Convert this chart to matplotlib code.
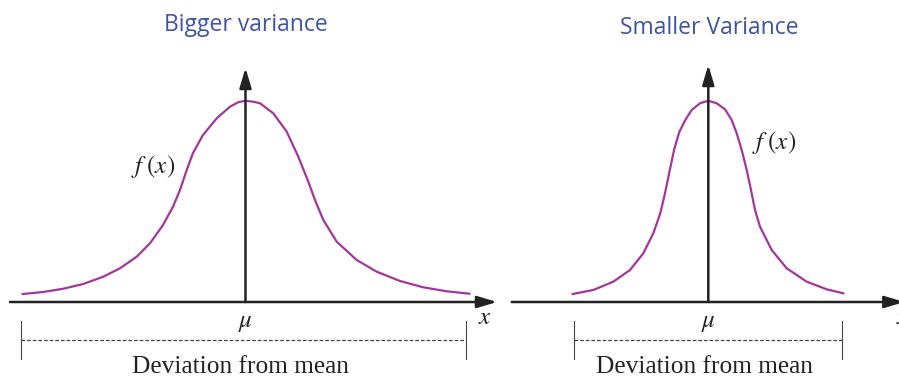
import matplotlib
matplotlib.use("Agg")
import matplotlib.pyplot as plt

plt.rcParams["mathtext.fontset"] = "stix"

# density curves: offset from the mean and height above the axis
wide_dx = [-222.8, -202.2, -182.2, -162.2, -142.2, -125.5, -108.8, -95.5, -82.5, -72.5, -65.5,
           -58.8, -52.5, -42.5, -28.5, -15.5, -7.5, 0,
           7.5, 14.5, 27.8, 41.2, 52.8, 62.8, 69.5, 77.8, 91.2, 111.2, 131.2, 154.5, 177.8,
           201.2, 223.8]
wide_h = [8, 10, 13.3, 18, 25.3, 33.7, 45.3, 58.7, 77, 95.3, 112,
          132, 149, 167, 184, 195.3, 199.7, 201.3,
          200.3, 198.7, 188.7, 170.3, 145.3, 120.3, 102, 82, 60.3, 42, 30.3, 21, 14.7,
          10.7, 8.3]

narrow_dx = [-135.6, -115, -95, -78.3, -65, -55, -48, -43, -38.5, -34, -29, -23, -16.6,
             -8.3, 0, 8.4, 16.7, 23.4, 28.4, 33.4, 38.4, 42.7, 46.7, 51.7, 63.4, 78.4, 98.4,
             118.4, 135]
narrow_h = [8, 12, 20.3, 32, 48.7, 68.7, 88.7, 110, 132, 153, 170, 182, 192,
            198.7, 201.3, 198.7, 192.7, 182, 168.7, 152, 132, 112, 92, 75.3, 52, 33.7, 20.3,
            12.7, 8.7]

titles = ["Bigger variance", "Smaller Variance"]
curve_color = "#a2369c"
title_color = "#4052a6"
ink = "#222222"


def arrow(ax, start, end):
    ax.annotate("", xy=end, xytext=start, annotation_clip=False,
                arrowprops=dict(arrowstyle="-|>,head_length=1.2,head_width=0.36",
                                lw=1.8, color=ink, shrinkA=0, shrinkB=0,
                                mutation_scale=10))


def panel(ax, dx, h, title, axis_span, arrow_top, title_pos, fx_pos, bracket, xlab_pos):
    ax.axis("off")
    ax.plot(dx, h, color=curve_color, lw=1.6, solid_joinstyle="round")
    arrow(ax, (axis_span[0], 0), (axis_span[1], 0))
    arrow(ax, (0, 0), (0, arrow_top))
    ax.text(title_pos[0], title_pos[1], title, color=title_color, fontsize=16.5,
            family="Open Sans", ha="center", va="center")
    ax.text(fx_pos[0], fx_pos[1], r"$f\;(x)$", fontsize=18, ha="center", va="center", color=ink)
    ax.text(0, -20, r"$\mu$", fontsize=18, ha="center", va="center", color=ink)
    ax.text(xlab_pos[0], xlab_pos[1], r"$x$", fontsize=18, ha="left", va="center",
            color=ink, clip_on=False)
    lo, hi = bracket
    for bx in (lo, hi):
        ax.plot([bx, bx], [-18.7, -57], color="#444444", lw=0.8)
    ax.plot([lo, hi], [-38, -38], color="#444444", lw=0.9, ls=(0, (3, 1.5)))
    ax.text((lo + hi) / 2 - 3, -71, "Deviation from mean", fontsize=18.3,
            family="Liberation Serif", ha="center", va="baseline", color=ink)


fig = plt.figure(figsize=(8.99, 3.77), dpi=100)

ax1 = fig.add_axes([0, 0, 505 / 899, 1])
ax1.set_xlim(-245.5, 259.5)
ax1.set_ylim(-75, 302)
panel(ax1, wide_dx, wide_h, titles[0], (-235.5, 251.5), 234, (0, 277), (-92.5, 135),
      (-224.8, 220.5), (232.5, -15.5))

ax2 = fig.add_axes([505 / 899, 0, 394 / 899, 1])
ax2.set_xlim(-203.3, 190.7)
ax2.set_ylim(-75, 302)
panel(ax2, narrow_dx, narrow_h, titles[1], (-196.6, 196), 237, (1, 274), (66, 160),
      (-134.3, 133.4), (188, -15.5))

fig.savefig("out.png", dpi=100)
